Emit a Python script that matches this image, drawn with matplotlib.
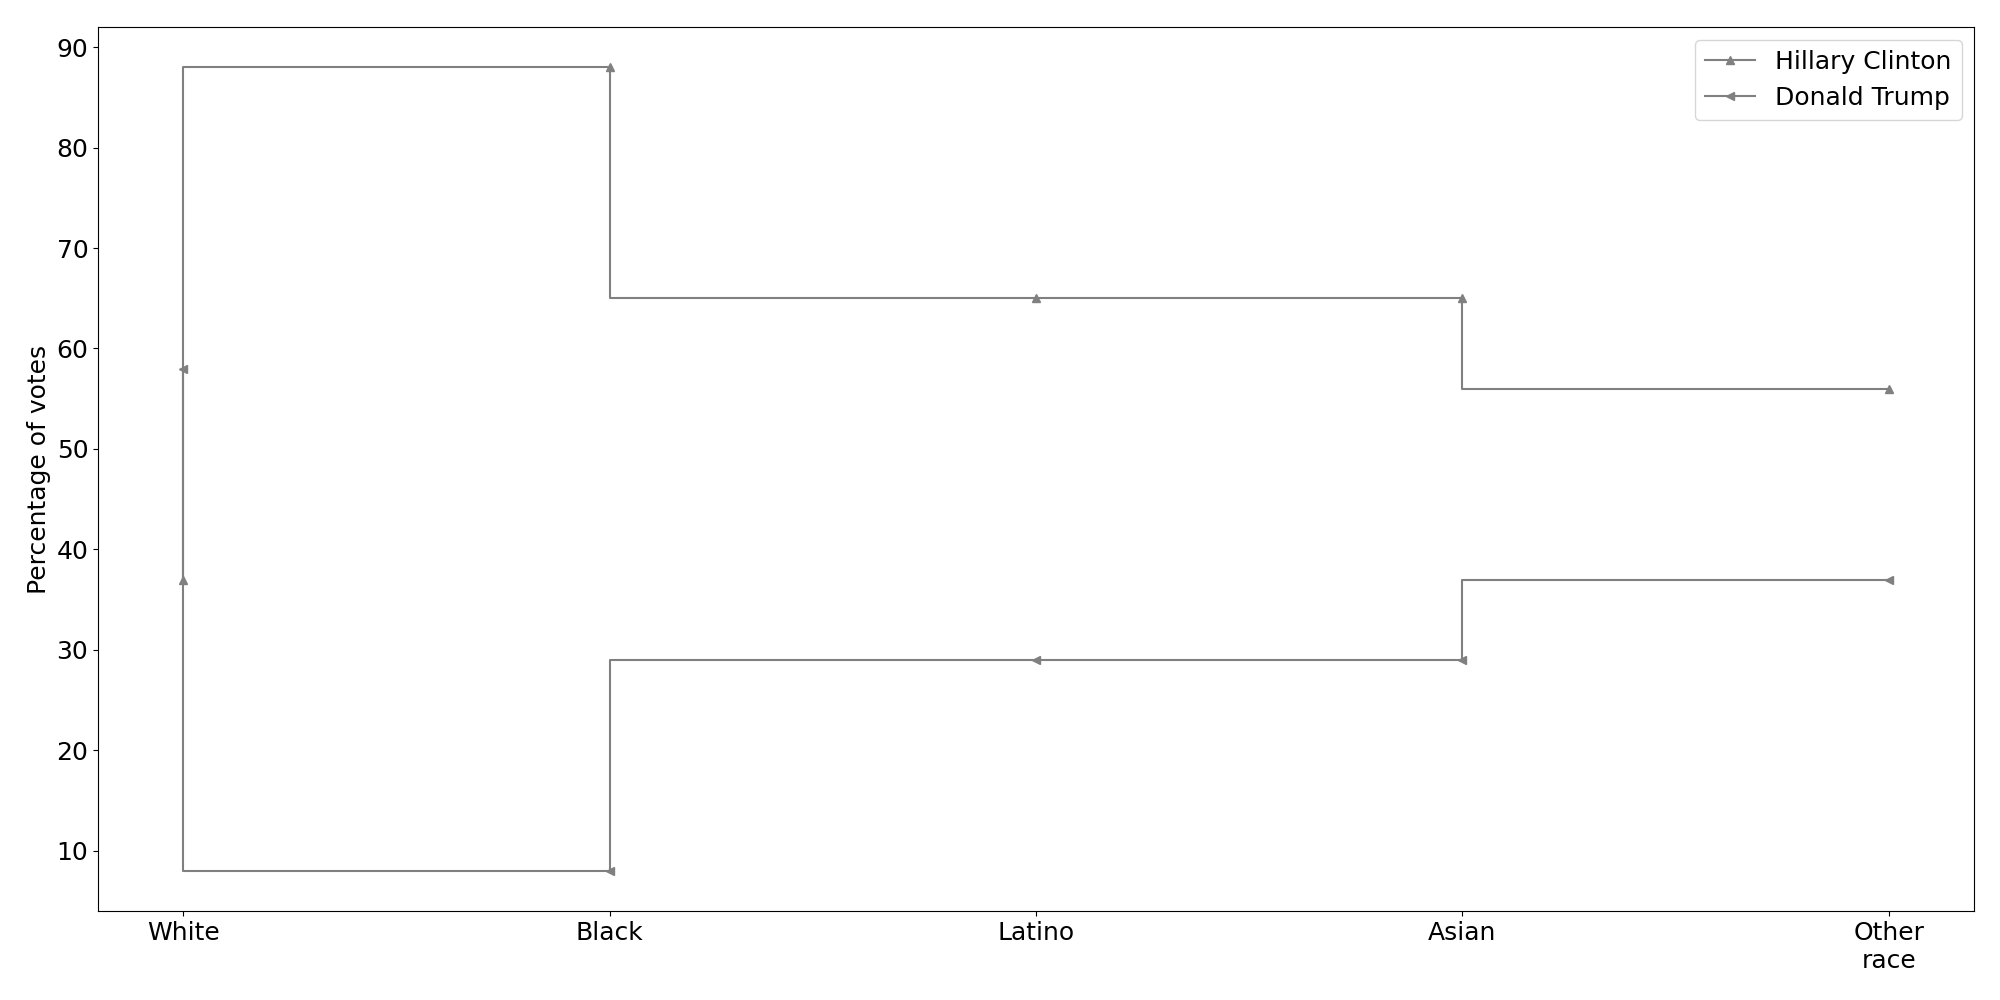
import matplotlib

matplotlib.use("Agg")
import matplotlib.pyplot as plt

# exit poll share by race, 2016
races = ["White", "Black", "Latino", "Asian", "Other\nrace"]
clinton = [37, 88, 65, 65, 56]
trump = [58, 8, 29, 29, 37]

fig, ax = plt.subplots(figsize=(20, 10), dpi=100)
fig.subplots_adjust(left=0.049, right=0.987, top=0.973, bottom=0.089)

ax.plot(races, clinton, drawstyle="steps-pre", color="gray", marker="^",
        markersize=6, linewidth=1.5, label="Hillary Clinton")
ax.plot(races, trump, drawstyle="steps-pre", color="gray", marker="<",
        markersize=6, linewidth=1.5, label="Donald Trump")

ax.set_ylabel("Percentage of votes", fontsize=18)
ax.tick_params(labelsize=18)
ax.legend(fontsize=18, loc="upper right")

plt.savefig("out.png", dpi=100)
